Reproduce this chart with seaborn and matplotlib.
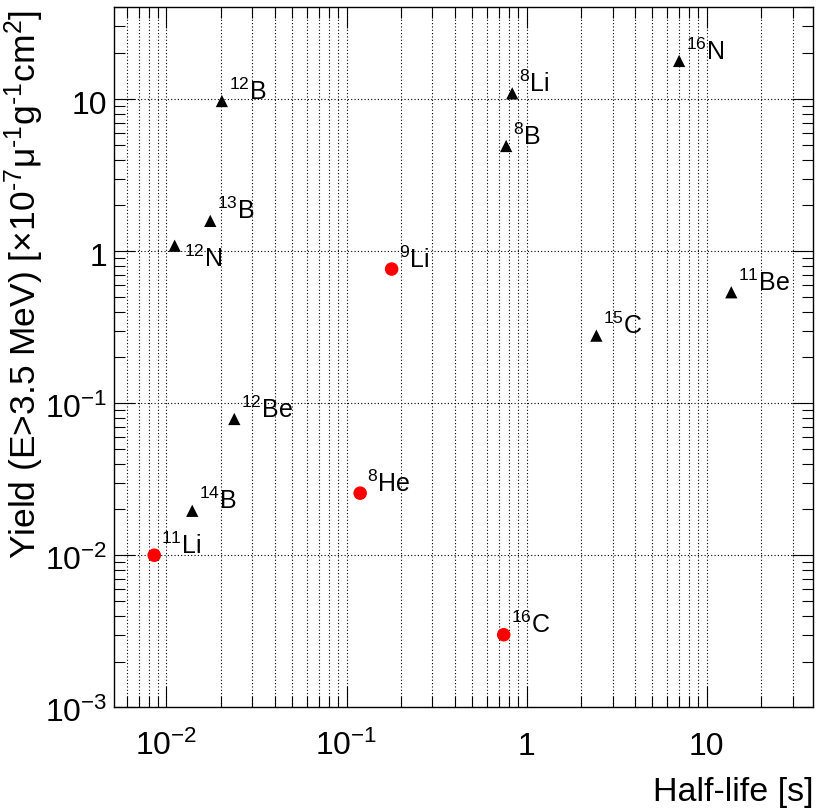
import numpy as np
import pandas as pd
import matplotlib
matplotlib.use("Agg")
import matplotlib.pyplot as plt
import matplotlib.ticker as mticker
import matplotlib.transforms as mtransforms
import seaborn as sns

# ---------------- data ----------------
mass_numbers = [12, 13, 12, 8, 8, 16, 11, 15, 12, 14, 9, 11, 8, 16]
elements = ["B", "B", "N", "Li", "B", "N", "Be", "C", "Be", "B", "Li", "Li", "He", "C"]
half_life_s = [0.0203, 0.0175, 0.0111, 0.832, 0.770, 7.03, 13.7, 2.44,
               0.0238, 0.0139, 0.178, 0.00855, 0.119, 0.746]
yield_vals = [9.7, 1.58, 1.085, 10.9, 4.91, 17.8, 0.536, 0.278,
              0.0787, 0.0196, 0.762, 0.0100, 0.0256, 0.0030]
decay_group = ["beta", "beta", "beta", "beta", "beta", "beta", "beta", "beta",
               "beta", "beta", "beta-n", "beta-n", "beta-n", "beta-n"]

x_tick_values = [0.01, 0.1, 1, 10]
x_tick_labels = ["$10^{-2}$", "$10^{-1}$", "1", "10"]
y_tick_values = [0.001, 0.01, 0.1, 1, 10]
y_tick_labels = ["$10^{-3}$", "$10^{-2}$", "$10^{-1}$", "1", "10"]

x_title = "Half-life [s]"
y_title = r"Yield (E>3.5 MeV) [×10$^{\text{-7}}$μ$^{\text{-1}}$g$^{\text{-1}}$cm$^{2}$]"

df = pd.DataFrame({
    "mass": mass_numbers,
    "element": elements,
    "half_life": half_life_s,
    "yield": yield_vals,
    "group": decay_group,
})

# ---------------- style ----------------
sns.set_style("white")
plt.rcParams["font.family"] = ["Liberation Sans", "DejaVu Sans"]
plt.rcParams["mathtext.fontset"] = "custom"
plt.rcParams["mathtext.rm"] = "Liberation Sans"
plt.rcParams["mathtext.it"] = "Liberation Sans:italic"
plt.rcParams["mathtext.bf"] = "Liberation Sans:bold"
plt.rcParams["mathtext.default"] = "regular"
plt.rcParams["text.color"] = "black"
plt.rcParams["axes.labelcolor"] = "black"

fig = plt.figure(figsize=(8.17, 8.10), dpi=100)
ax = fig.add_axes([114.3 / 817, (810 - 707.3) / 810, 699 / 817, 700 / 810])

sns.scatterplot(data=df[df["group"] == "beta"], x="half_life", y="yield",
                marker="^", color="black", s=78, edgecolor="none",
                linewidth=0, ax=ax, legend=False, zorder=5)
sns.scatterplot(data=df[df["group"] == "beta-n"], x="half_life", y="yield",
                marker="o", color="#ff0000", s=95, edgecolor="none",
                linewidth=0, ax=ax, legend=False, zorder=5)

ax.set_xscale("log")
ax.set_yscale("log")
ax.set_xlim(0.00513, 39.1)
ax.set_ylim(0.001, 40.1)

# isotope labels
label_offsets = {("12", "N"): (6.5, -15.5)}
for _, r in df.iterrows():
    key = (str(r["mass"]), r["element"])
    off = label_offsets.get(key, (5.0, 1.0))
    ax.annotate(f"$^{{{r['mass']}}}$" + r["element"], xy=(r["half_life"], r["yield"]),
                xytext=off, textcoords="offset points", ha="left", va="baseline",
                fontsize=18, color="black", zorder=6)

# ticks
ax.xaxis.set_major_locator(mticker.FixedLocator(x_tick_values))
ax.xaxis.set_major_formatter(mticker.FixedFormatter(x_tick_labels))
ax.xaxis.set_minor_locator(mticker.LogLocator(base=10, subs=np.arange(2, 10), numticks=30))
ax.xaxis.set_minor_formatter(mticker.NullFormatter())
ax.yaxis.set_major_locator(mticker.FixedLocator(y_tick_values))
ax.yaxis.set_major_formatter(mticker.FixedFormatter(y_tick_labels))
ax.yaxis.set_minor_locator(mticker.LogLocator(base=10, subs=np.arange(2, 10), numticks=30))
ax.yaxis.set_minor_formatter(mticker.NullFormatter())

ax.tick_params(which="both", direction="in", top=True, right=True,
               bottom=True, left=True, colors="black", width=0.8)
ax.tick_params(which="major", length=15, labelsize=23)
ax.tick_params(which="minor", length=8)
ax.tick_params(axis="x", which="major", pad=34.5)
ax.tick_params(axis="y", which="major", pad=5)

for lbl in ax.get_xticklabels():
    lbl.set_va("baseline")
for lbl in ax.get_yticklabels():
    lbl.set_va("baseline")
    lbl.set_transform(lbl.get_transform() +
                      mtransforms.ScaledTranslation(0, -0.15, fig.dpi_scale_trans))

# grid
ax.grid(True, which="major", axis="both", color="black", linestyle=(0, (1, 2)), linewidth=0.8)
ax.grid(True, which="minor", axis="x", color="black", linestyle=(0, (1, 2)), linewidth=0.8)
ax.set_axisbelow(True)

for sp in ax.spines.values():
    sp.set_visible(True)
    sp.set_color("black")
    sp.set_linewidth(1.0)

ax.set_xlabel(x_title, fontsize=24.5, loc="right", color="black")
ax.xaxis.set_label_coords(1.0, -0.099)
ax.set_ylabel(y_title, fontsize=25.5, loc="top", color="black")
ax.yaxis.set_label_coords(-0.097, 0.996)

fig.savefig("out.png", dpi=100)
